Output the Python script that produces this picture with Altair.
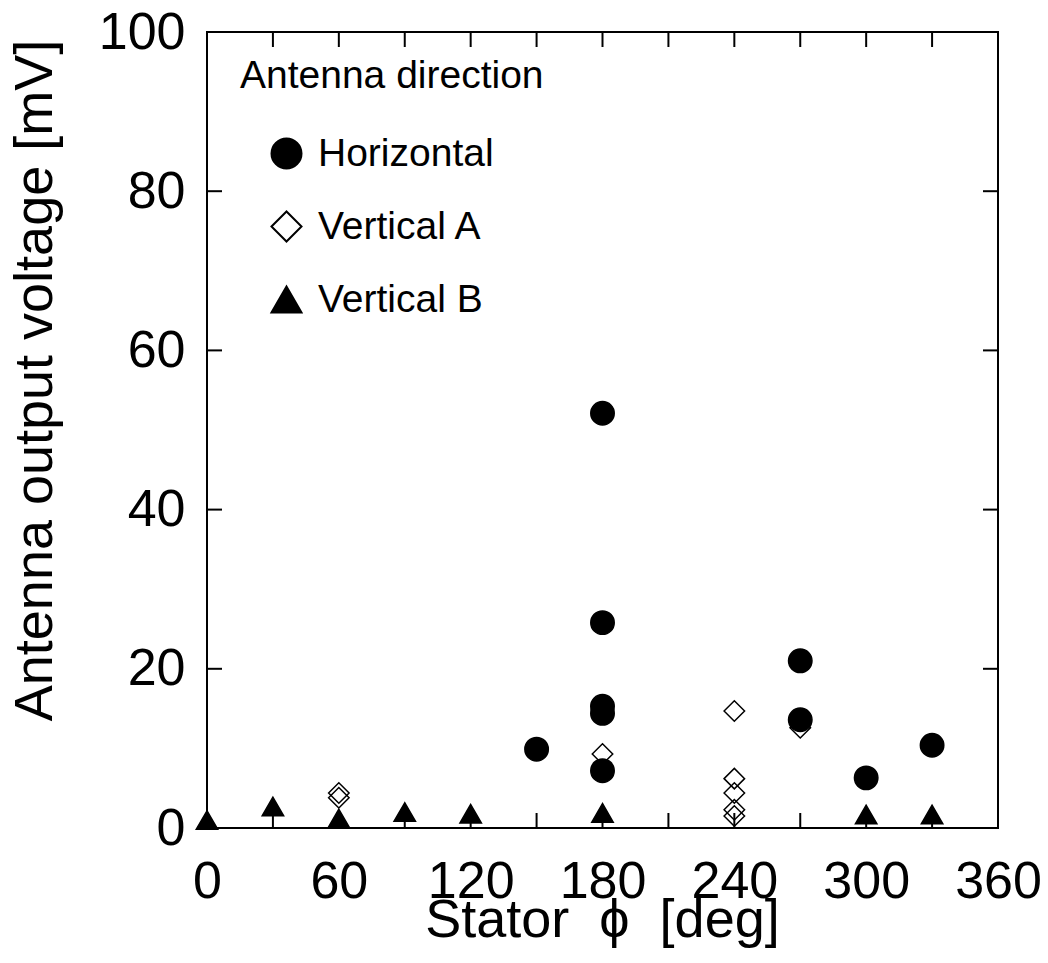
import altair as alt
import pandas as pd

# ---- data ----
horizontal_phi = [150, 180, 180, 180, 180, 180, 270, 270, 300, 330]
horizontal_mv = [9.9, 52.1, 25.8, 15.3, 14.4, 7.2, 21.0, 13.6, 6.3, 10.4]

vertical_a_phi = [60, 60, 180, 240, 240, 240, 240, 240, 270]
vertical_a_mv = [4.4, 3.8, 9.3, 14.7, 6.2, 4.4, 2.3, 1.5, 12.6]

vertical_b_phi = [0, 30, 60, 90, 120, 180, 300, 330]
vertical_b_mv = [1.0, 2.7, 1.2, 2.0, 1.8, 1.9, 1.7, 1.7]

series_names = ["Horizontal", "Vertical A", "Vertical B"]
x_label_values = [0, 60, 120, 180, 240, 300, 360]
x_tick_values = [0, 30, 60, 90, 120, 150, 180, 210, 240, 270, 300, 330, 360]
y_tick_values = [0, 20, 40, 60, 80, 100]

df_h = pd.DataFrame({"phi": horizontal_phi, "mv": horizontal_mv, "dir": "Horizontal"})
df_a = pd.DataFrame({"phi": vertical_a_phi, "mv": vertical_a_mv, "dir": "Vertical A"})
df_b = pd.DataFrame({"phi": vertical_b_phi, "mv": vertical_b_mv, "dir": "Vertical B"})

W, H = 791, 796
FONT = "Liberation Sans"
TICK = 15
NB = "\u00a0"

x_axis = alt.Axis(values=x_label_values, labelPadding=28, labelFlush=False,
                  title="Stator" + NB + NB + "\u03d5" + NB + NB + "[deg]",
                  titleX=395, titleY=108, titleBaseline="alphabetic")
y_axis = alt.Axis(values=y_tick_values, labelPadding=22, labelFlush=False,
                  title="Antenna output voltage [mV]", titleX=-156, titleY=348,
                  titleBaseline="alphabetic", titleAngle=-90)

x_scale = alt.Scale(domain=[0, 360], nice=False)
y_scale = alt.Scale(domain=[0, 100], nice=False)

legend = alt.Legend(title="Antenna direction", orient="none", legendX=33, legendY=25,
                    padding=0, titleFontSize=39, titleFont=FONT, titleFontWeight="normal",
                    titleColor="black", titlePadding=38, titleLimit=1000,
                    labelFontSize=39, labelFont=FONT, labelLimit=1000,
                    labelColor="black", symbolSize=900, symbolStrokeWidth=2,
                    symbolStrokeColor="black", symbolOffset=27, labelOffset=12,
                    rowPadding=33)

shape_enc = alt.Shape("dir:N", scale=alt.Scale(domain=series_names,
                                               range=["circle", "diamond", "triangle-up"]),
                      legend=legend)
fill_enc = alt.Fill("dir:N", scale=alt.Scale(domain=series_names,
                                             range=["black", "transparent", "black"]),
                    legend=legend)
stroke_enc = alt.Stroke("dir:N", scale=alt.Scale(domain=series_names,
                                                 range=["black", "black", "black"]),
                        legend=legend)


def layer_for(df, size):
    return alt.Chart(df).mark_point(strokeWidth=1.5, opacity=1, size=size).encode(
        x=alt.X("phi:Q", scale=x_scale, axis=x_axis),
        y=alt.Y("mv:Q", scale=y_scale, axis=y_axis),
        shape=shape_enc,
        fill=fill_enc,
        stroke=stroke_enc,
    )


pts_a = layer_for(df_a, 420)
pts_b = layer_for(df_b, 460)
pts_h = layer_for(df_h, 550)

xt = pd.DataFrame({"t": x_tick_values})
yt = pd.DataFrame({"t": y_tick_values})

tick_bottom = alt.Chart(xt).mark_rule(color="black", strokeWidth=2).encode(
    x=alt.X("t:Q", scale=x_scale), y=alt.value(H), y2=alt.value(H - TICK))
tick_top = alt.Chart(xt).mark_rule(color="black", strokeWidth=2).encode(
    x=alt.X("t:Q", scale=x_scale), y=alt.value(0), y2=alt.value(TICK))
tick_left = alt.Chart(yt).mark_rule(color="black", strokeWidth=2).encode(
    y=alt.Y("t:Q", scale=y_scale), x=alt.value(0), x2=alt.value(TICK))
tick_right = alt.Chart(yt).mark_rule(color="black", strokeWidth=2).encode(
    y=alt.Y("t:Q", scale=y_scale), x=alt.value(W), x2=alt.value(W - TICK))

chart = alt.layer(pts_a, pts_b, pts_h, tick_bottom, tick_top, tick_left, tick_right).properties(
    width=W, height=H,
    autosize=alt.AutoSizeParams(type="none"),
    padding={"left": 199, "top": 24, "right": 42, "bottom": 120},
).configure_view(
    stroke="black", strokeWidth=2
).configure_axis(
    domain=False, grid=False, ticks=False,
    labelFont=FONT, labelFontSize=52, labelColor="black",
    titleFont=FONT, titleFontSize=54, titleFontWeight="normal", titleColor="black",
)

chart.save("out.html", embed_options={"renderer": "svg", "actions": False})
